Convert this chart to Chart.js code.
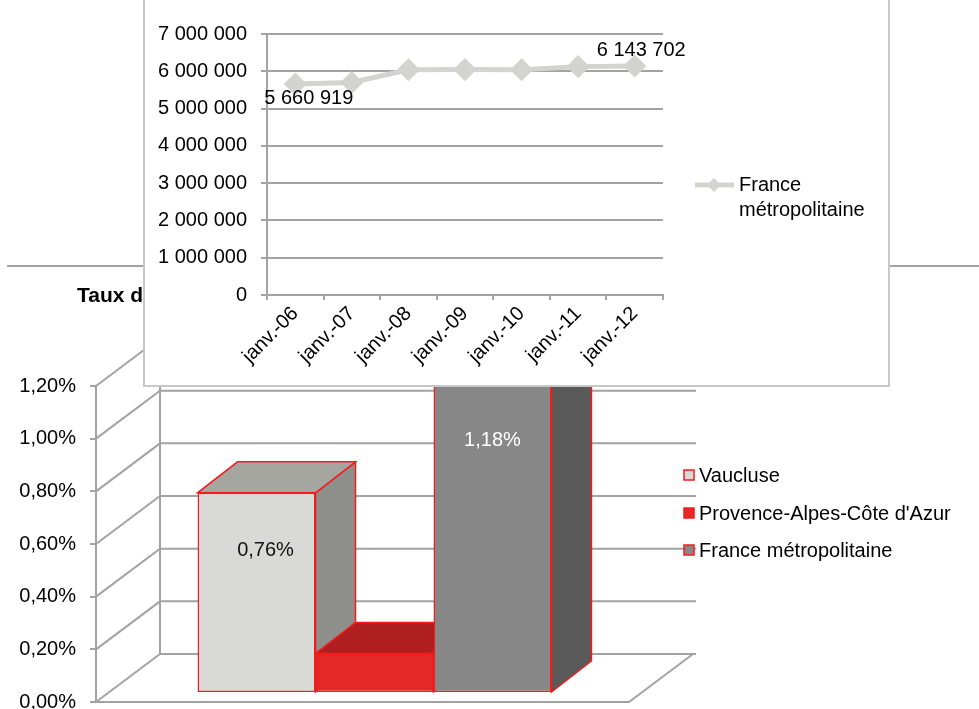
<!DOCTYPE html>
<html>
<head>
<meta charset="utf-8">
<script src="https://cdn.jsdelivr.net/npm/chart.js@4.4.1/dist/chart.umd.min.js"></script>
<style>
  html, body { margin: 0; padding: 0; background: #fff; overflow: hidden; width: 979px; height: 709px; }
  #bottomChart { position: absolute; left: 0; top: 0; }
  #topWrap { position: absolute; left: 143px; top: -2px; width: 743px; height: 385px; border: 2px solid #C8C8C8; background: #fff; z-index: 2; }
  #topChart { position: absolute; left: 0; top: 0; }
</style>
</head>
<body>
<canvas id="bottomChart" width="979" height="709"></canvas>
<div id="topWrap"><canvas id="topChart" width="743" height="385"></canvas></div>
<script>
// ---------- data ----------
const months = ['janv.-06', 'janv.-07', 'janv.-08', 'janv.-09', 'janv.-10', 'janv.-11', 'janv.-12'];
const franceValues = [5660919, 5700000, 6040000, 6045000, 6040000, 6125000, 6143702];
const topSeriesName = 'France métropolitaine';
const labelledPoints = [0, 6];

const regions = ['Vaucluse', "Provence-Alpes-Côte d'Azur", 'France métropolitaine'];
const tauxValues = [0.0076, 0.0015, 0.0118];
const tauxLabelShown = [true, false, true];
const bottomTitle = "Taux d'évolution annuel moyen";

// ---------- styles ----------
const FONT = "'Liberation Sans', Arial, sans-serif";
const GRID = '#A3A3A3';
const frontColors = ['#D9D9D5', '#E32828', '#878787'];
const topColors = ['#A6A6A1', '#B01F1F', '#6E6E6E'];
const sideColors = ['#8E8E8A', '#9A1A1A', '#595959'];
const labelColors = ['#111', '#fff', '#fff'];
const EDGE = '#F21C1C';

function fmtThousands(n) {
  return Math.round(n).toString().replace(/\B(?=(\d{3})+(?!\d))/g, ' ');
}
function fmtPct(v) {
  return (v * 100).toFixed(2).replace('.', ',') + '%';
}

// ---------- bottom 3D bar chart ----------
const DEPTH_DX = 64, DEPTH_DY = -48;      // back wall offset
const BAR_DX = 40, BAR_DY = -31;          // bar depth
const SHIFT_X = 12, SHIFT_Y = -9;         // bars placed slightly behind front plane

const bottomPlugin = {
  id: 'threeD',
  beforeDatasetsDraw(chart) {
    const ctx = chart.ctx;
    const ys = chart.scales.y;
    const a = chart.chartArea;
    ctx.save();
    ctx.strokeStyle = GRID;
    ctx.lineWidth = 2;
    ctx.beginPath();
    ctx.moveTo(7, 266); ctx.lineTo(979, 266);
    ctx.stroke();
    const wallRight = a.right + DEPTH_DX + 3;
    ys.ticks.forEach(t => {
      const yf = ys.getPixelForValue(t.value);
      ctx.beginPath();
      ctx.moveTo(a.left, yf);
      ctx.lineTo(a.left + DEPTH_DX, yf + DEPTH_DY);
      ctx.lineTo(wallRight, yf + DEPTH_DY);
      ctx.stroke();
    });
    const y0 = ys.getPixelForValue(ys.min);
    const yTop = ys.getPixelForValue(ys.max);
    ctx.beginPath();
    ctx.moveTo(a.left + DEPTH_DX, y0 + DEPTH_DY);
    ctx.lineTo(a.left + DEPTH_DX, yTop + DEPTH_DY);
    ctx.stroke();
    ctx.beginPath();
    ctx.moveTo(a.left, y0);
    ctx.lineTo(a.right, y0);
    ctx.lineTo(a.right + DEPTH_DX, y0 + DEPTH_DY);
    ctx.stroke();
    ctx.fillStyle = '#000';
    ctx.font = 'bold 21px ' + FONT;
    ctx.textBaseline = 'alphabetic';
    ctx.fillText(bottomTitle, 77, 302);
    ctx.restore();
  },
  beforeDatasetDraw() { return false; },
  afterDatasetsDraw(chart) {
    const ctx = chart.ctx;
    ctx.save();
    ctx.translate(SHIFT_X, SHIFT_Y);
    chart.data.datasets.forEach((ds, i) => {
      const meta = chart.getDatasetMeta(i);
      const el = meta.data[0];
      const p = el.getProps(['x', 'y', 'base', 'width'], true);
      const l = p.x - p.width / 2, r = p.x + p.width / 2;
      ctx.lineWidth = 1.5;
      ctx.strokeStyle = EDGE;
      ctx.beginPath();
      ctx.moveTo(r, p.y); ctx.lineTo(r + BAR_DX, p.y + BAR_DY);
      ctx.lineTo(r + BAR_DX, p.base + BAR_DY); ctx.lineTo(r, p.base);
      ctx.closePath();
      ctx.fillStyle = sideColors[i]; ctx.fill(); ctx.stroke();
      ctx.beginPath();
      ctx.moveTo(l, p.y); ctx.lineTo(r, p.y);
      ctx.lineTo(r + BAR_DX, p.y + BAR_DY); ctx.lineTo(l + BAR_DX, p.y + BAR_DY);
      ctx.closePath();
      ctx.fillStyle = topColors[i]; ctx.fill(); ctx.stroke();
      el.draw(ctx);
    });
    ctx.font = '20px ' + FONT;
    ctx.textAlign = 'center';
    ctx.textBaseline = 'middle';
    chart.data.datasets.forEach((ds, i) => {
      if (!tauxLabelShown[i]) return;
      const el = chart.getDatasetMeta(i).data[0];
      const p = el.getProps(['x', 'y'], true);
      ctx.fillStyle = labelColors[i];
      ctx.fillText(fmtPct(ds.data[0]), p.x + (i === 0 ? 9 : 0), p.y + 58);
    });
    ctx.restore();
  },
  afterDraw(chart) {
    const ctx = chart.ctx;
    ctx.save();
    ctx.font = '20px ' + FONT;
    ctx.textBaseline = 'middle';
    ctx.textAlign = 'left';
    const ys = [475, 513, 550];
    chart.data.datasets.forEach((ds, i) => {
      ctx.fillStyle = frontColors[i];
      ctx.fillRect(684, ys[i] - 5, 10, 10);
      ctx.strokeStyle = EDGE; ctx.lineWidth = 1.5;
      ctx.strokeRect(684, ys[i] - 5, 10, 10);
      ctx.fillStyle = '#000';
      ctx.fillText(ds.label, 699, ys[i] + 1);
    });
    ctx.restore();
  }
};

new Chart(document.getElementById('bottomChart'), {
  type: 'bar',
  data: {
    labels: [''],
    datasets: regions.map((name, i) => ({
      label: name,
      data: [tauxValues[i]],
      backgroundColor: frontColors[i],
      borderColor: EDGE,
      borderWidth: 1.5,
      borderSkipped: false,
      clip: false
    }))
  },
  options: {
    responsive: false,
    devicePixelRatio: 1,
    animation: false,
    categoryPercentage: 0.664,
    barPercentage: 1,
    layout: { padding: { top: 386, right: 350, bottom: 7, left: 0 } },
    plugins: { legend: { display: false }, tooltip: { enabled: false }, title: { display: false } },
    scales: {
      x: { display: false },
      y: {
        min: 0, max: 0.012,
        afterFit(s) { s.width = 96; s.paddingTop = 0; s.paddingBottom = 0; },
        ticks: { stepSize: 0.002, color: '#000', font: { family: FONT, size: 20 }, padding: 14, callback: v => fmtPct(v) },
        grid: { drawOnChartArea: false, drawTicks: true, tickLength: 6, color: GRID, lineWidth: 2 },
        border: { display: true, color: GRID, width: 2 }
      }
    }
  },
  plugins: [bottomPlugin]
});

// ---------- top line chart ----------
const LINE = '#D3D3CF';
const topPlugin = {
  id: 'topExtras',
  afterDatasetsDraw(chart) {
    const ctx = chart.ctx;
    const meta = chart.getDatasetMeta(0);
    ctx.save();
    ctx.font = '20px ' + FONT;
    ctx.fillStyle = '#000';
    ctx.textBaseline = 'middle';
    ctx.textAlign = 'left';
    labelledPoints.forEach(idx => {
      const pt = meta.data[idx];
      const txt = fmtThousands(chart.data.datasets[0].data[idx]);
      if (idx === 0) ctx.fillText(txt, pt.x - 31, pt.y + 15);
      else ctx.fillText(txt, pt.x - 38, pt.y - 15);
    });
    const ly = 185;
    ctx.strokeStyle = LINE; ctx.lineWidth = 5;
    ctx.beginPath(); ctx.moveTo(550, ly); ctx.lineTo(589, ly); ctx.stroke();
    ctx.fillStyle = LINE;
    ctx.beginPath();
    ctx.moveTo(569, ly - 7); ctx.lineTo(576, ly); ctx.lineTo(569, ly + 7); ctx.lineTo(562, ly);
    ctx.closePath(); ctx.fill();
    ctx.fillStyle = '#000';
    const parts = topSeriesName.split(' ');
    ctx.fillText(parts[0], 594, ly);
    ctx.fillText(parts.slice(1).join(' '), 594, ly + 25);
    ctx.restore();
  }
};

new Chart(document.getElementById('topChart'), {
  type: 'line',
  data: {
    labels: months,
    datasets: [{
      label: topSeriesName,
      data: franceValues,
      borderColor: LINE,
      backgroundColor: LINE,
      borderWidth: 5,
      pointStyle: 'rectRot',
      pointRadius: 8,
      pointBackgroundColor: LINE,
      pointBorderColor: LINE,
      tension: 0
    }]
  },
  options: {
    responsive: false,
    devicePixelRatio: 1,
    animation: false,
    layout: { padding: { top: 34, right: 225, bottom: 0, left: 0 } },
    plugins: { legend: { display: false }, tooltip: { enabled: false } },
    scales: {
      x: {
        offset: true,
        afterFit(s) { s.height = 90; },
        ticks: { minRotation: 45, maxRotation: 45, color: '#000', font: { family: FONT, size: 20 }, padding: 2, autoSkip: false },
        grid: { offset: true, drawOnChartArea: false, drawTicks: true, tickLength: 5, color: GRID, lineWidth: 2 },
        border: { display: true, color: GRID, width: 2 }
      },
      y: {
        min: 0, max: 7000000,
        afterFit(s) { s.width = 122; },
        ticks: { stepSize: 1000000, color: '#000', font: { family: FONT, size: 20 }, padding: 14, callback: v => fmtThousands(v) },
        grid: { color: GRID, lineWidth: 2, tickLength: 6 },
        border: { display: true, color: GRID, width: 2 }
      }
    }
  },
  plugins: [topPlugin]
});
</script>
</body>
</html>
